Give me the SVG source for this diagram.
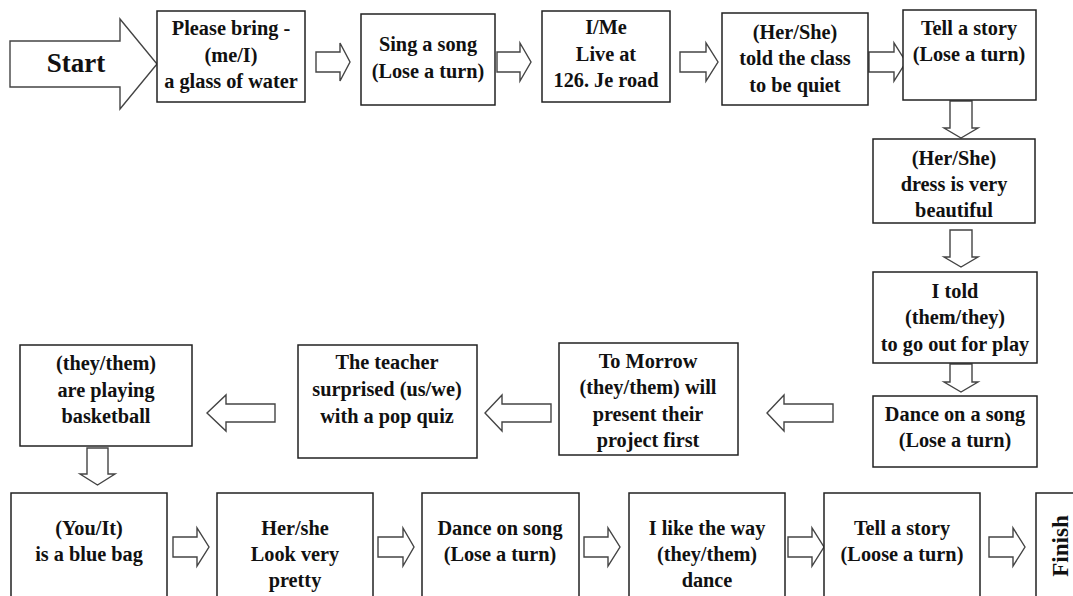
<svg xmlns="http://www.w3.org/2000/svg" width="1073" height="596" viewBox="0 0 1073 596">
<style>
.box{fill:#fff;stroke:#222;stroke-width:1.5}
.arr{fill:#fff;stroke:#444;stroke-width:1.4;stroke-linejoin:miter}
text{font-family:"Liberation Serif","Times New Roman",serif;font-weight:bold;font-size:20.3px;fill:#111;text-anchor:middle}
</style>
<rect width="1073" height="596" fill="#fff"/>
<g id="connectors">
<polygon class="arr" points="316,52 340,52 340,43 350,62 340,81 340,72 316,72"/>
<polygon class="arr" points="497,52 520,52 520,43 531,62 520,81 520,72 497,72"/>
<polygon class="arr" points="680,52 706,52 706,43 718,62 706,81 706,72 680,72"/>
<polygon class="arr" points="869,52 894,52 894,43 906,62 894,81 894,72 869,72"/>
<polygon class="arr" points="950,101 972,101 972,128 978,128 961,138 944,128 950,128"/>
<polygon class="arr" points="950,230 972,230 972,257 978,257 961,267 944,257 950,257"/>
<polygon class="arr" points="950,364 972,364 972,382 978,382 961,392 944,382 950,382"/>
<polygon class="arr" points="833,404 784,404 784,395 767,413 784,431 784,422 833,422"/>
<polygon class="arr" points="551,404 502,404 502,395 485,413 502,431 502,422 551,422"/>
<polygon class="arr" points="275,404 226,404 226,395 207,413 226,431 226,422 275,422"/>
<polygon class="arr" points="87,448 108,448 108,474 115,474 97.5,485 80,474 87,474"/>
<polygon class="arr" points="173,537 197,537 197,528 209,547 197,566 197,557 173,557"/>
<polygon class="arr" points="378,537 403,537 403,528 414,547 403,566 403,557 378,557"/>
<polygon class="arr" points="584,537 608,537 608,528 620,547 608,566 608,557 584,557"/>
<polygon class="arr" points="788,537 812,537 812,528 824,547 812,566 812,557 788,557"/>
<polygon class="arr" points="989,537 1013,537 1013,528 1025,547 1013,566 1013,557 989,557"/>
</g>
<g id="start">
<polygon class="arr" points="10,41 120,41 120,19 157,64 120,109 120,87 10,87"/>
<text x="76" y="72" style="font-size:27px">Start</text>
</g>
<g id="n1"><rect class="box" x="157" y="11" width="148" height="91"/>
<text x="231" y="35">Please bring -</text><text x="231" y="62">(me/I)</text><text x="231" y="88">a glass of water</text></g>
<g id="n2"><rect class="box" x="361" y="14" width="134" height="91"/>
<text x="428" y="51">Sing a song</text><text x="428" y="78">(Lose a turn)</text></g>
<g id="n3"><rect class="box" x="542" y="11" width="128" height="91"/>
<text x="606" y="34">I/Me</text><text x="606" y="61">Live at</text><text x="606" y="87">126. Je road</text></g>
<g id="n4"><rect class="box" x="722" y="13" width="146" height="92"/>
<text x="795" y="39">(Her/She)</text><text x="795" y="65">told the class</text><text x="795" y="92">to be quiet</text></g>
<g id="n5"><rect class="box" x="903" y="10" width="133" height="90"/>
<text x="969" y="35">Tell a story</text><text x="969" y="61">(Lose a turn)</text></g>
<g id="n6"><rect class="box" x="873" y="139" width="162" height="84"/>
<text x="954" y="165">(Her/She)</text><text x="954" y="191">dress is very</text><text x="954" y="217">beautiful</text></g>
<g id="n7"><rect class="box" x="873" y="272" width="164" height="91"/>
<text x="955" y="298">I told</text><text x="955" y="324">(them/they)</text><text x="955" y="351">to go out for play</text></g>
<g id="n8"><rect class="box" x="873" y="396" width="164" height="71"/>
<text x="955" y="421">Dance on a song</text><text x="955" y="447">(Lose a turn)</text></g>
<g id="n9"><rect class="box" x="559" y="343" width="179" height="112"/>
<text x="648" y="368">To Morrow</text><text x="648" y="394">(they/them) will</text><text x="648" y="421">present their</text><text x="648" y="447">project first</text></g>
<g id="n10"><rect class="box" x="298" y="345" width="179" height="113"/>
<text x="387" y="369">The teacher</text><text x="387" y="396">surprised (us/we)</text><text x="387" y="423">with a pop quiz</text></g>
<g id="n11"><rect class="box" x="20" y="345" width="172" height="101"/>
<text x="106" y="370">(they/them)</text><text x="106" y="397">are playing</text><text x="106" y="423">basketball</text></g>
<g id="n12"><rect class="box" x="11" y="493" width="156" height="110"/>
<text x="89" y="535">(You/It)</text><text x="89" y="561">is a blue bag</text></g>
<g id="n13"><rect class="box" x="217" y="493" width="156" height="110"/>
<text x="295" y="535">Her/she</text><text x="295" y="561">Look very</text><text x="295" y="587">pretty</text></g>
<g id="n14"><rect class="box" x="422" y="493" width="157" height="110"/>
<text x="500" y="535">Dance on song</text><text x="500" y="561">(Lose a turn)</text></g>
<g id="n15"><rect class="box" x="629" y="493" width="156" height="110"/>
<text x="707" y="535">I like the way</text><text x="707" y="561">(they/them)</text><text x="707" y="587">dance</text></g>
<g id="n16"><rect class="box" x="824" y="493" width="156" height="110"/>
<text x="902" y="535">Tell a story</text><text x="902" y="561">(Loose a turn)</text></g>
<g id="n17"><rect class="box" x="1036" y="493" width="50" height="110"/>
<text x="0" y="0" transform="translate(1068,546) rotate(-90)" style="font-size:23px">Finish</text></g>
</svg>
